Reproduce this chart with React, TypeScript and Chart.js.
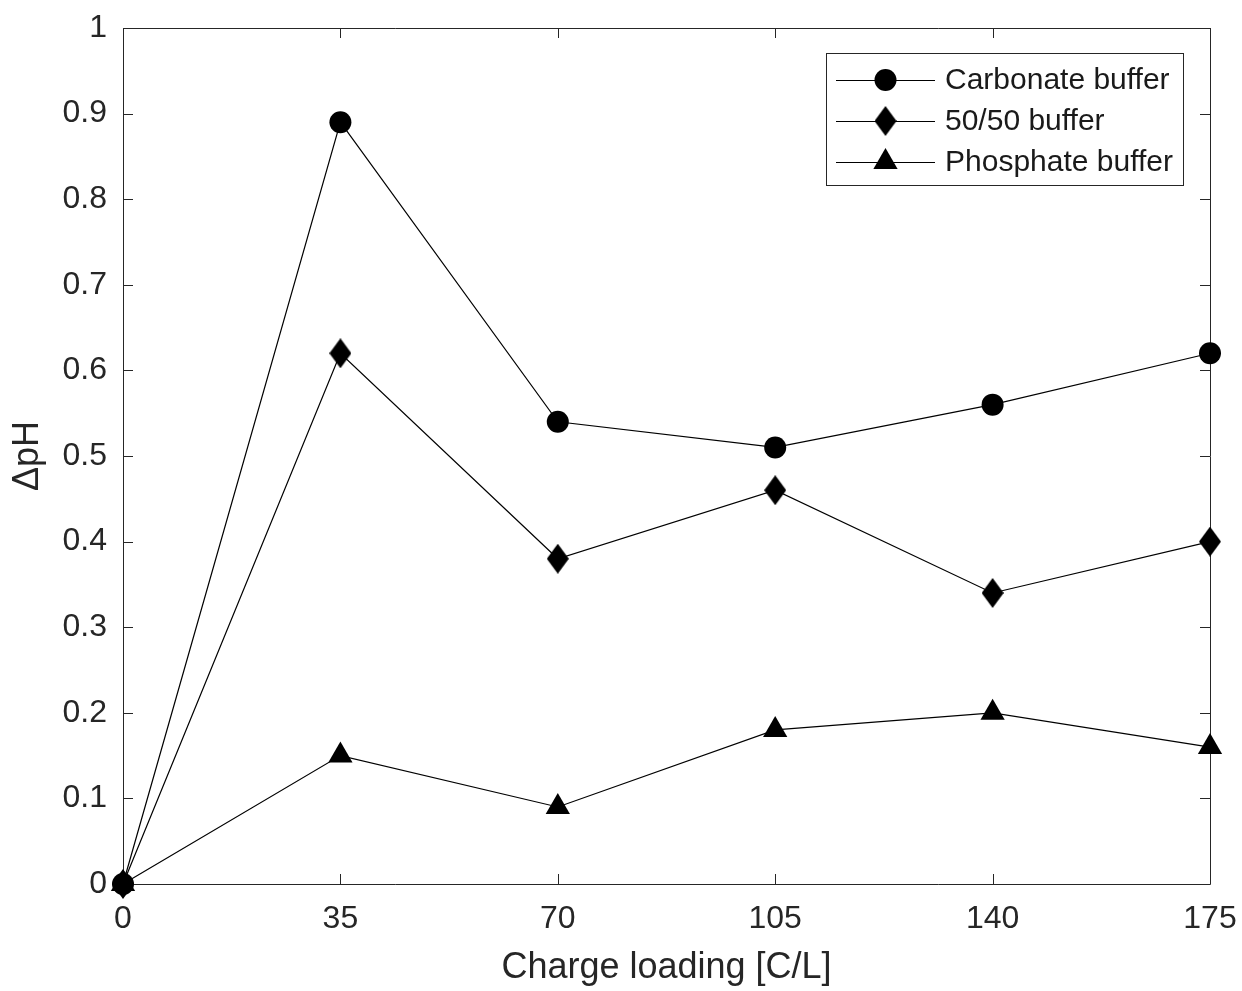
import React, { useEffect, useRef } from "react";
import { Chart, registerables } from "chart.js";

Chart.register(...registerables);

const chargeLoading = [0, 35, 70, 105, 140, 175];
const carbonateBuffer = [0, 0.89, 0.54, 0.51, 0.56, 0.62];
const fiftyFiftyBuffer = [0, 0.62, 0.38, 0.46, 0.34, 0.4];
const phosphateBuffer = [0, 0.15, 0.09, 0.18, 0.2, 0.16];
const seriesNames = ["Carbonate buffer", "50/50 buffer", "Phosphate buffer"];
const xTickValues = [0, 35, 70, 105, 140, 175];
const yTickValues = [0, 0.1, 0.2, 0.3, 0.4, 0.5, 0.6, 0.7, 0.8, 0.9, 1];
const xTitle = "Charge loading [C/L]";
const yTitle = "ΔpH";

const AXIS = "#262626";
const FONT = "'Liberation Sans', Arial, Helvetica, sans-serif";

function makeDiamond(w: number, h: number): HTMLCanvasElement {
  const c = document.createElement("canvas");
  c.width = w;
  c.height = h;
  const g = c.getContext("2d")!;
  g.fillStyle = "#000";
  g.beginPath();
  g.moveTo(w / 2, 0);
  g.lineTo(w, h / 2);
  g.lineTo(w / 2, h);
  g.lineTo(0, h / 2);
  g.closePath();
  g.fill();
  return c;
}

const boxPlugin = {
  id: "matlabBox",
  beforeDatasetsDraw(chart: any) {
    const { ctx, chartArea: a, scales } = chart;
    const xs = scales.x;
    const ys = scales.y;
    const tl = 10;
    ctx.save();
    ctx.strokeStyle = AXIS;
    ctx.lineWidth = 1;
    ctx.beginPath();
    ctx.rect(Math.round(a.left) + 0.5, Math.round(a.top) + 0.5, Math.round(a.right - a.left), Math.round(a.bottom - a.top));
    for (const v of yTickValues) {
      const y = Math.round(ys.getPixelForValue(v)) + 0.5;
      ctx.moveTo(a.left, y);
      ctx.lineTo(a.left + tl, y);
      ctx.moveTo(a.right, y);
      ctx.lineTo(a.right - tl, y);
    }
    for (const v of xTickValues) {
      const x = Math.round(xs.getPixelForValue(v)) + 0.5;
      ctx.moveTo(x, a.bottom);
      ctx.lineTo(x, a.bottom - tl);
      ctx.moveTo(x, a.top);
      ctx.lineTo(x, a.top + tl);
    }
    ctx.stroke();
    ctx.restore();
  },
};

const legendPlugin = {
  id: "matlabLegend",
  afterDatasetsDraw(chart: any) {
    const { ctx, chartArea: a } = chart;
    const bx = a.right - 384;
    const by = a.top + 25;
    const bw = 357;
    const bh = 132;
    ctx.save();
    ctx.fillStyle = "#fff";
    ctx.fillRect(bx, by, bw, bh);
    ctx.strokeStyle = AXIS;
    ctx.lineWidth = 1;
    ctx.strokeRect(Math.round(bx) + 0.5, Math.round(by) + 0.5, bw, bh);
    chart.data.datasets.forEach((ds: any, i: number) => {
      const cy = by + 27 + i * 41;
      const x0 = bx + 10;
      const x1 = bx + 109;
      const mx = (x0 + x1) / 2;
      ctx.strokeStyle = "#000";
      ctx.lineWidth = 1.2;
      ctx.beginPath();
      ctx.moveTo(x0, cy + 0.5);
      ctx.lineTo(x1, cy + 0.5);
      ctx.stroke();
      ctx.fillStyle = "#000";
      const ps = ds.pointStyle;
      const r = ds.pointRadius;
      if (ps === "circle") {
        ctx.beginPath();
        ctx.arc(mx, cy, r, 0, Math.PI * 2);
        ctx.fill();
      } else if (ps === "triangle") {
        ctx.beginPath();
        ctx.moveTo(mx, cy - r);
        ctx.lineTo(mx + r * Math.sin((2 * Math.PI) / 3), cy - r * Math.cos((2 * Math.PI) / 3));
        ctx.lineTo(mx - r * Math.sin((2 * Math.PI) / 3), cy - r * Math.cos((2 * Math.PI) / 3));
        ctx.closePath();
        ctx.fill();
      } else if (ps instanceof HTMLCanvasElement) {
        ctx.drawImage(ps, mx - ps.width / 2, cy - ps.height / 2);
      }
      ctx.fillStyle = "#1a1a1a";
      ctx.font = `30px ${FONT}`;
      ctx.textBaseline = "middle";
      ctx.textAlign = "left";
      ctx.fillText(ds.label, bx + 119, cy + 1);
    });
    ctx.restore();
  },
};

export default function App() {
  const ref = useRef<HTMLCanvasElement | null>(null);
  useEffect(() => {
    if (!ref.current) return;
    const diamond = makeDiamond(22, 30);
    const mk = (label: string, data: number[], pointStyle: any, radius: number) => ({
      label,
      data: chargeLoading.map((x, i) => ({ x, y: data[i] })),
      borderColor: "#000",
      backgroundColor: "#000",
      borderWidth: 1.2,
      pointStyle,
      pointRadius: radius,
      pointHoverRadius: radius,
      pointBorderWidth: 0,
      pointBackgroundColor: "#000",
      pointBorderColor: "#000",
      tension: 0,
      clip: false as any,
    });
    const chart = new Chart(ref.current, {
      type: "line",
      data: {
        datasets: [
          mk(seriesNames[0], carbonateBuffer, "circle", 11),
          mk(seriesNames[1], fiftyFiftyBuffer, diamond, 12),
          mk(seriesNames[2], phosphateBuffer, "triangle", 14),
        ],
      },
      options: {
        responsive: false,
        animation: false,
        devicePixelRatio: 1,
        layout: { padding: { left: 0, right: 32, top: 28, bottom: 0 } },
        plugins: { legend: { display: false }, tooltip: { enabled: false } },
        scales: {
          x: {
            type: "linear",
            min: 0,
            max: 175,
            afterFit: (s: any) => {
              s.height = 107;
              s.paddingLeft = 0;
              s.paddingRight = 0;
            },
            afterBuildTicks: (s: any) => {
              s.ticks = xTickValues.map((v) => ({ value: v }));
            },
            grid: { display: false, drawTicks: false },
            border: { display: false },
            ticks: {
              padding: 16,
              color: AXIS,
              font: { family: FONT, size: 32 },
              maxRotation: 0,
              autoSkip: false,
              callback: (v: any) => String(v),
            },
            title: {
              display: true,
              text: xTitle,
              color: AXIS,
              font: { family: FONT, size: 36, lineHeight: 1 },
              padding: { top: 0, bottom: 5 },
            },
          },
          y: {
            type: "linear",
            min: 0,
            max: 1,
            afterFit: (s: any) => {
              s.width = 123;
              s.paddingTop = 0;
              s.paddingBottom = 0;
            },
            afterBuildTicks: (s: any) => {
              s.ticks = yTickValues.map((v) => ({ value: v }));
            },
            grid: { display: false, drawTicks: false },
            border: { display: false },
            ticks: {
              padding: 16,
              color: AXIS,
              font: { family: FONT, size: 32 },
              autoSkip: false,
              callback: (v: any) => String(Math.round(v * 10) / 10),
            },
            title: {
              display: true,
              text: yTitle,
              color: AXIS,
              font: { family: FONT, size: 36, lineHeight: 1 },
              padding: { top: 10, bottom: 0 },
            },
          },
        },
      },
      plugins: [boxPlugin, legendPlugin],
    });
    return () => chart.destroy();
  }, []);
  return (
    <div style={{ position: "absolute", left: 0, top: 0, width: 1242, height: 991, background: "#fff" }}>
      <canvas ref={ref} width={1242} height={991} style={{ display: "block" }} />
    </div>
  );
}
